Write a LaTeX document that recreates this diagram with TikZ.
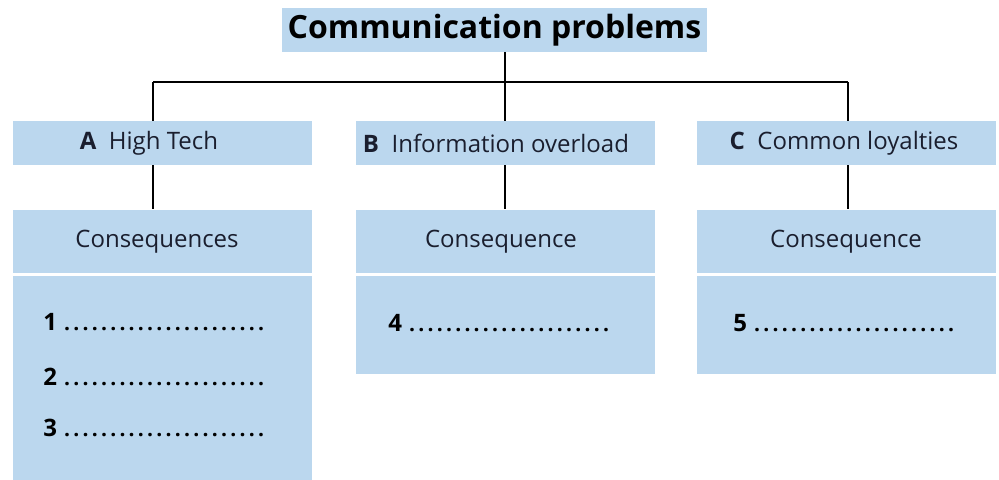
\documentclass[tikz,border=0pt]{standalone}
\usepackage{fontspec}
\setmainfont{Open Sans}
\usetikzlibrary{positioning}
\definecolor{boxblue}{RGB}{187,215,238}
\definecolor{inkblue}{RGB}{26,30,46}
\tikzset{
  titlebox/.style={rectangle,fill=boxblue,minimum width=212.5pt,minimum height=22pt,
    inner sep=0pt,font=\fontsize{16}{18}\selectfont\bfseries,text=black},
  headbox/.style={rectangle,fill=boxblue,minimum width=149.5pt,minimum height=22pt,
    inner sep=0pt,font=\fontsize{12}{14}\selectfont,text=inkblue},
  conbox/.style={rectangle,fill=boxblue,minimum width=149.5pt,minimum height=31.5pt,
    inner sep=0pt,font=\fontsize{12}{14}\selectfont,text=inkblue},
  listbox/.style={rectangle,fill=boxblue,minimum width=149.5pt,inner sep=0pt},
  blankline/.style={anchor=west,inner sep=0pt,font=\fontsize{12}{14}\selectfont,text=black},
  link/.style={draw=black,line width=1pt}
}
\newcommand{\answerline}[1]{\textbf{#1}\,\hbox to 103pt{\fontsize{10.5}{12}\selectfont\bfseries\dotfill}}

\begin{document}
\begin{tikzpicture}[x=0.5pt,y=-0.5pt]
  \fill[white] (0,0) rectangle (999,479);
  \useasboundingbox (0,0) rectangle (999,479);

  \node[titlebox] (title) at (494.5,30) {Communication problems};

  % the three branches (\kern pushes the label a bit to the left)
  \node[headbox] (hdA) at (162.5,143) {\textbf{A}\ \ High Tech\kern13.5pt};
  \node[headbox] (hdB) at (505,143) {\textbf{B}\ \ Information overload\kern9pt};
  \node[headbox] (hdC) at (846,143) {\textbf{C}\ \ Common loyalties\kern2pt};

  \node[conbox, below=22pt of hdA] (conA) {Consequences\kern5.5pt};
  \node[conbox, below=22pt of hdB] (conB) {Consequence\kern4pt};
  \node[conbox, below=22pt of hdC] (conC) {Consequence};

  \node[listbox, minimum height=102.5pt, below=1pt of conA] (listA) {};
  \node[listbox, minimum height=49pt, below=1pt of conB] (listB) {};
  \node[listbox, minimum height=49pt, below=1pt of conC] (listC) {};

  \node[blankline] (a1) at (43,322) {\answerline{1}};
  \node[blankline] (a2) at (43,377) {\answerline{2}};
  \node[blankline] (a3) at (43,428) {\answerline{3}};
  \node[blankline] (b4) at (388,323) {\answerline{4}};
  \node[blankline] (c5) at (733,323) {\answerline{5}};

  % tree lines
  \coordinate (hub) at (505,82);
  \coordinate (jA) at (153,82);
  \coordinate (jC) at (848,82);
  \draw[link] (title.south -| hub) -- (hub);
  \draw[link] (jA) -- (jC);
  \draw[link] (jA) -- (jA |- hdA.north);
  \draw[link] (hub) -- (hdB.north);
  \draw[link] (jC) -- (jC |- hdC.north);
  \draw[link] (hdA.south -| jA) -- (conA.north -| jA);
  \draw[link] (hdB.south -| hub) -- (conB.north -| hub);
  \draw[link] (hdC.south -| jC) -- (conC.north -| jC);
\end{tikzpicture}
\end{document}
